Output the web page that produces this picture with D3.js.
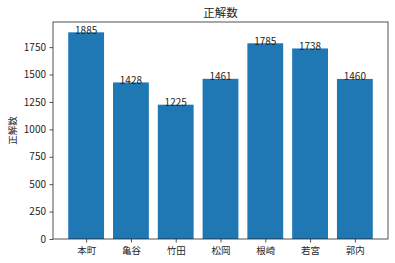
<!DOCTYPE html>
<html>
<head>
<meta charset="utf-8">
<script src="https://cdn.jsdelivr.net/npm/d3@7"></script>
<style>
  body { margin: 0; background: #fff; }
  text { font-family: "Noto Sans CJK JP", sans-serif; fill: #262626; }
</style>
</head>
<body>
<script>
const categories = ['本町', '亀谷', '竹田', '松岡', '根崎', '若宮', '郭内']
const values = [1885, 1428, 1225, 1461, 1785, 1738, 1460]
const yTicks = [0, 250, 500, 750, 1000, 1250, 1500, 1750]

const W = 395, H = 263
const M_LEFT = 53, M_RIGHT = 388, M_TOP = 22, M_BOTTOM = 239

const svg = d3.select('body').append('svg').attr('width', W).attr('height', H)

// same padding rule as matplotlib: bars 0.8 wide, 5% margins
const x = d3.scaleLinear().domain([-0.74, 6.74]).range([M_LEFT, M_RIGHT])
const y = d3.scaleLinear().domain([0, d3.max(values) * 1.05]).range([M_BOTTOM, M_TOP])
const bw = x(0.8) - x(0)

svg.selectAll('rect.bar')
  .data(values)
  .enter()
  .append('rect')
  .attr('class', 'bar')
  .attr('x', (d, i) => x(i) - bw / 2)
  .attr('width', bw)
  .attr('y', d => y(d))
  .attr('height', d => M_BOTTOM - y(d))
  .attr('fill', '#1f77b4')

// value labels on top of bars
svg.selectAll('text.val')
  .data(values)
  .enter()
  .append('text')
  .attr('class', 'val')
  .attr('x', (d, i) => x(i))
  .attr('y', d => y(d) + 1.5)
  .attr('text-anchor', 'middle')
  .attr('font-size', 10)
  .attr('fill', '#111')
  .text(d => d)

// axes
const yAxis = d3.axisLeft(y).tickValues(yTicks).tickFormat(d3.format('d'))
  .tickSize(3.5).tickPadding(3.5)
const gy = svg.append('g').attr('transform', `translate(${M_LEFT},0)`).call(yAxis)
gy.selectAll('.tick text').attr('font-size', 10)

const xAxis = d3.axisBottom(x).tickValues(d3.range(categories.length))
  .tickFormat(i => categories[i]).tickSize(3.5).tickPadding(4.5)
const gx = svg.append('g').attr('transform', `translate(0,${M_BOTTOM})`).call(xAxis)
gx.selectAll('.tick text').attr('font-size', 9.5)

svg.selectAll('.tick text').style('font-family', '"Noto Sans CJK JP", sans-serif').attr('fill', '#262626')
svg.selectAll('.tick line').attr('stroke', '#262626').attr('stroke-width', 0.8)
svg.selectAll('.domain').remove()

// frame
svg.append('rect')
  .attr('x', M_LEFT).attr('y', M_TOP)
  .attr('width', M_RIGHT - M_LEFT).attr('height', M_BOTTOM - M_TOP)
  .attr('fill', 'none').attr('stroke', '#262626').attr('stroke-width', 0.8)

svg.append('text')
  .attr('x', (M_LEFT + M_RIGHT) / 2).attr('y', 16.5)
  .attr('text-anchor', 'middle').attr('font-size', 11.5)
  .text('正解数')

svg.append('text')
  .attr('transform', `translate(16,${(M_TOP + M_BOTTOM) / 2}) rotate(-90)`)
  .attr('text-anchor', 'middle').attr('font-size', 9.5)
  .text('正解数')
</script>
</body>
</html>
